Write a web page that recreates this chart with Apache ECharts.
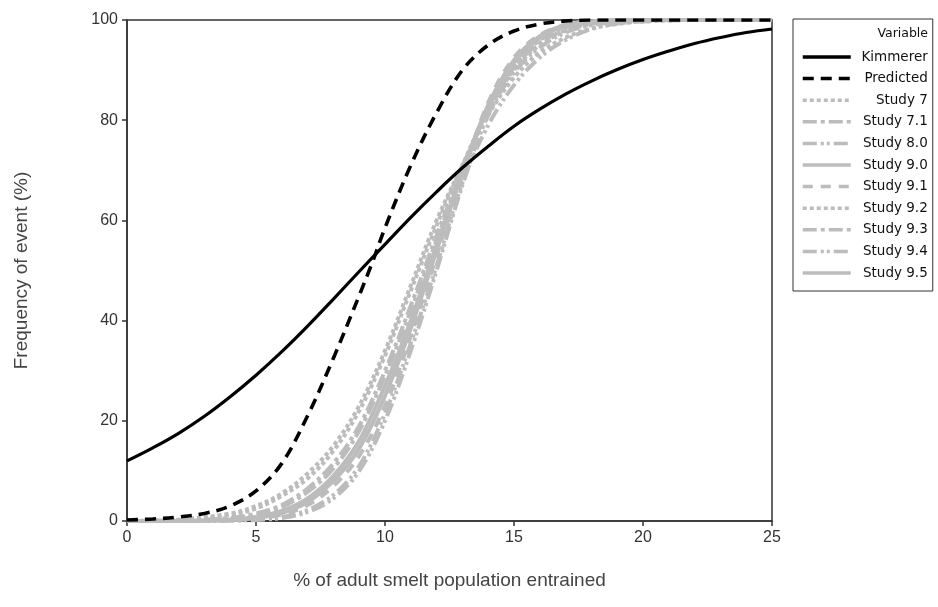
<!DOCTYPE html>
<html><head><meta charset="utf-8">
<script src="https://cdn.jsdelivr.net/npm/echarts@6/dist/echarts.min.js"></script>
<style>html,body{margin:0;padding:0;background:#fff}#c{width:938px;height:607px}</style>
</head><body><div id="c"></div>
<script>
// Kimmerer curve
const kimX = [0,1,2,3,4,5,6,7,8,9,10,11,12,13,14,15,16,17,18,19,20,21,22,23,24,25];
const kimY = [12,14.6,17.5,20.9,24.8,29.1,33.8,38.9,44.3,49.8,55.2,60.6,65.7,70.5,74.8,78.8,82.2,85.2,87.8,90.1,92.1,93.8,95.3,96.5,97.5,98.2];
// Predicted curve
const predX = [0,1,2,3,4,5,6,7,8,9,9.5,10,11,12,13,14,15,16,17,18,20,25];
const predY = [0.2,0.4,0.8,1.5,3,6,11.5,21,32.5,45,51.5,58.5,71,81.5,90,95,97.8,99.2,99.8,100,100,100];
// Study curves share x positions
const studyX = [0,2,4,5,6,7,8,9,10,11,12,13,14,15,16,17,18,19,20,22,25];
const study7  = [0,0.3,1.5,3,5.5,9.5,15,23,34,47,60,71,81,88.5,93.5,96.5,98.3,99.2,99.7,100,100];
const study71 = [0,0.1,0.6,1.5,3.2,6.5,11.5,19,30,43,57,70,82,90.5,95.5,98,99.3,99.8,100,100,100];
const study80 = [0,0,0.1,0.2,0.6,1.8,4.5,10,20,34,50,67,81,89.5,94.5,97.5,99,99.6,99.9,100,100];
const study90 = [0,0,0.3,0.8,2,4.5,9,16,27,40,55,69.5,82.5,91.5,96.5,98.8,99.6,99.9,100,100,100];
const study91 = [0,0,0.2,0.5,1.3,3.2,7,13,23,37,53,69,83.5,92.5,97,99,99.7,100,100,100,100];
const study92 = [0,0.2,1.2,2.5,5,8.5,14,22,33,46,59,71,82,90,95,97.8,99.2,99.7,100,100,100];
const study93 = [0,0.1,0.5,1.2,2.8,5.8,10.5,18,29,42,56,70,82.5,91,96,98.5,99.5,99.8,100,100,100];
const study94 = [0,0,0.1,0.3,0.8,2.2,5.2,11,21.5,35.5,51,67.5,79,87,92.5,96,98.2,99.3,99.7,100,100];
const study95 = [0,0,0.2,0.6,1.6,3.8,8,14.5,25,38.5,54,69.5,83,92,96.8,99,99.7,100,100,100,100];
const studyNames = ['Study 7','Study 7.1','Study 8.0','Study 9.0','Study 9.1','Study 9.2','Study 9.3','Study 9.4','Study 9.5'];
const studyVals = [study7,study71,study80,study90,study91,study92,study93,study94,study95];
const xTicks = {min:0,max:25,interval:5};
const yTicks = {min:0,max:100,interval:20};

const dashes = [[4,3],[14,4,4,4],[14,4,3,3,3,4],'solid',[10,8],[4,3],[14,4,4,4],[14,4,3,3,3,4],'solid'];
const gray = '#bcbcbc';
const pair = (xs, ys) => xs.map((x,i)=>[x, ys[i]]);

const series = [];
studyNames.forEach((n,i)=>{
  series.push({name:n,type:'line',data:pair(studyX,studyVals[i]),smooth:0.35,
    showSymbol:false,symbol:'none',z:2,lineStyle:{color:gray,width:4,type:dashes[i]},itemStyle:{color:gray}});
});
series.push({name:'Kimmerer',type:'line',data:pair(kimX,kimY),smooth:0.4,showSymbol:false,symbol:'none',z:4,
  lineStyle:{color:'#000',width:3.2,type:'solid'},itemStyle:{color:'#000'}});
series.push({name:'Predicted',type:'line',data:pair(predX,predY),smooth:0.35,showSymbol:false,symbol:'none',z:4,
  lineStyle:{color:'#000',width:3.6,type:[11,7]},itemStyle:{color:'#000'}});

const chart = echarts.init(document.getElementById('c'), null, {renderer:'canvas'});
chart.setOption({
  animation:false,
  backgroundColor:'#fff',
  grid:{left:127,top:20,right:166,bottom:86,show:true,borderColor:'#333',borderWidth:1.5,backgroundColor:'transparent'},
  xAxis:{type:'value',min:xTicks.min,max:xTicks.max,interval:xTicks.interval,
    name:'% of adult smelt population entrained',nameLocation:'middle',nameGap:50,
    nameTextStyle:{fontFamily:'Liberation Sans',fontSize:19,color:'#444'},
    axisLine:{show:true,lineStyle:{color:'#333',width:1.5}},
    axisTick:{show:true,length:5,lineStyle:{color:'#333',width:1.5}},
    axisLabel:{fontFamily:'Liberation Sans',fontSize:16,color:'#333',margin:9},
    splitLine:{show:false}},
  yAxis:{type:'value',min:yTicks.min,max:yTicks.max,interval:yTicks.interval,
    name:'Frequency of event (%)',nameLocation:'middle',nameGap:96,
    nameTextStyle:{fontFamily:'Liberation Sans',fontSize:19,color:'#444'},
    axisLine:{show:true,lineStyle:{color:'#333',width:1.5}},
    axisTick:{show:true,length:5,lineStyle:{color:'#333',width:1.5}},
    axisLabel:{fontFamily:'Liberation Sans',fontSize:16,color:'#333',margin:9},
    splitLine:{show:false}},
  legend:{orient:'vertical',left:793,top:19,
    data:['Kimmerer','Predicted'].concat(studyNames),
    padding:[31,5,11,8],itemGap:7.6,itemWidth:48,itemHeight:14,
    borderColor:'#333',borderWidth:1,backgroundColor:'#fff',
    selectedMode:false,
    itemStyle:{opacity:0},
    lineStyle:{width:3.5},
    formatter: n => '{r|'+n+'}',
    textStyle:{fontFamily:'DejaVu Sans',fontSize:13.5,color:'#111',lineHeight:14,
      rich:{r:{width:72,align:'right',fontFamily:'DejaVu Sans',fontSize:13.5,color:'#111'}}}},
  graphic:[{type:'text',right:10,top:27,z:100,style:{text:'Variable',fontFamily:'DejaVu Sans',fontSize:12.5,fill:'#111'}}],
  series:series
});
</script></body></html>
